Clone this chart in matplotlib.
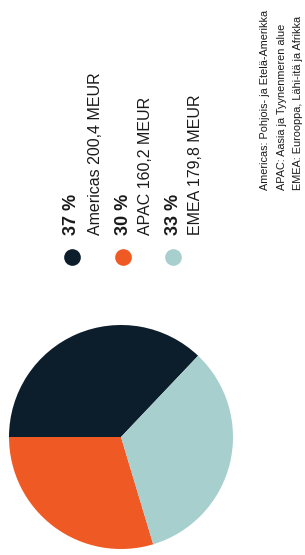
import matplotlib
matplotlib.use("Agg")
import matplotlib.pyplot as plt

# Data (the chart is printed rotated 90 degrees)
regions = ["Americas", "APAC", "EMEA"]
values_meur = [200.4, 160.2, 179.8]
shares = ["37 %", "30 %", "33 %"]
value_labels = ["Americas 200,4 MEUR", "APAC 160,2 MEUR", "EMEA 179,8 MEUR"]
colors = ["#0c1d2b", "#ef5a24", "#a7cfce"]
notes = [
    "Americas: Pohjois- ja Etelä-Amerikka",
    "APAC: Aasia ja Tyynenmeren alue",
    "EMEA: Eurooppa, Lähi-itä ja Afrikka",
]

W, H = 305, 555
fig = plt.figure(figsize=(W / 100, H / 100), dpi=100)
plt.rcParams['font.family'] = ['Liberation Sans', 'DejaVu Sans']


def px(x, y):
    # pixel coords (from top-left) to figure fraction
    return x / W, 1 - y / H


# Pie
cx, cy, r = 121, 437, 112
ax = fig.add_axes([(cx - r) / W, 1 - (cy + r) / H, 2 * r / W, 2 * r / H])
first_share = values_meur[0] / sum(values_meur) * 360
ax.pie(values_meur, colors=colors, startangle=180 - first_share,
       counterclock=True, radius=1.0, wedgeprops=dict(linewidth=0))
ax.set_xlim(-1, 1)
ax.set_ylim(-1, 1)
ax.set_aspect('equal')
ax.axis('off')

# Legend markers
overlay = fig.add_axes([0, 0, 1, 1])
overlay.set_xlim(0, W)
overlay.set_ylim(H, 0)
overlay.axis('off')
marker_x = [72, 123, 173]
for mx, c in zip(marker_x, colors):
    overlay.plot(mx, 257, 'o', color=c, markersize=12, markeredgewidth=0)

# Legend text
share_x = [72, 123, 173]
label_x = [95, 146, 196]
for sx, lx, s, lab in zip(share_x, label_x, shares, value_labels):
    fig.text(*px(sx, 235), s, rotation=90, ha='center', va='bottom',
             fontsize=13, fontweight='bold', color='#1a1a1a')
    fig.text(*px(lx, 235), lab, rotation=90, ha='center', va='bottom',
             fontsize=11.5, color='#1a1a1a')

# Footnotes
note_x = [265, 282, 298]
for nx, n in zip(note_x, notes):
    fig.text(*px(nx, 190), n, rotation=90, ha='center', va='bottom',
             fontsize=7.8, color='#1a1a1a')

fig.savefig("out.png", dpi=100, facecolor='white')
